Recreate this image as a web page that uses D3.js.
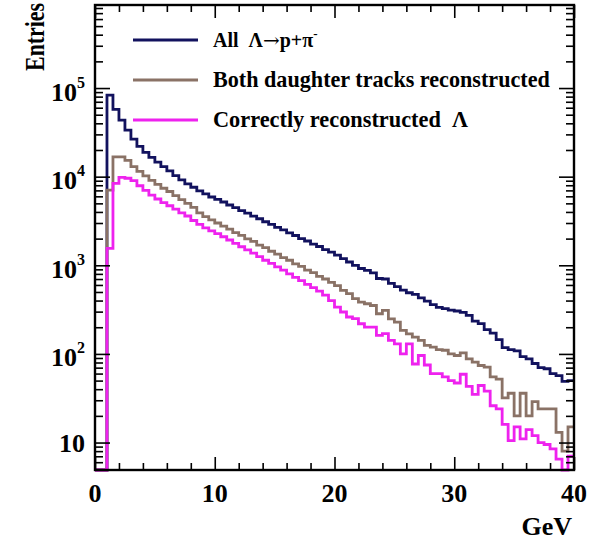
<!DOCTYPE html>
<html>
<head>
<meta charset="utf-8">
<script src="https://cdn.jsdelivr.net/npm/d3@7"></script>
<style>
  body { margin: 0; background: #fff; }
  svg { display: block; }
  text { font-family: "Liberation Serif", "Times New Roman", serif; font-weight: bold; fill: #000; white-space: pre; }
</style>
</head>
<body>
<svg id="chart" width="589" height="541"></svg>
<script>
// ---------------- data ----------------
const binWidth = 0.5;
const binLowEdges = d3.range(0, 40, binWidth); // 80 bins, 0 .. 39.5 GeV

const allLambda = [
  0, 0, 83000, 57500, 43500, 33500, 26500, 22000, 18800, 16500,
  14600, 13000, 11600, 10300, 9200, 8300, 7600, 6900, 6400, 5900,
  5550, 5180, 4790, 4480, 4140, 3870, 3580, 3350, 3100, 2900,
  2680, 2510, 2320, 2170, 2000, 1880, 1730, 1630, 1500, 1410,
  1300, 1190, 1090, 1000, 920, 878, 820, 710, 700, 625,
  575, 525, 490, 470, 430, 395, 360, 335, 325, 312,
  305, 295, 272, 235, 220, 188, 172, 145, 118, 112,
  108, 93, 88, 78, 70, 68, 60, 57, 49, 50
];
const bothDaughters = [
  0, 0, 7050, 16700, 16700, 15300, 13000, 11500, 10200, 9100,
  8200, 7400, 6800, 6100, 5500, 5000, 4500, 3900, 3550, 3250,
  3000, 2760, 2560, 2340, 2180, 1990, 1860, 1690, 1580, 1440,
  1340, 1220, 1140, 1040, 970, 880, 825, 750, 700, 640,
  590, 521, 478, 420, 385, 368, 352, 284, 310, 249,
  228, 184, 168, 155, 142, 125, 119, 112, 110, 100,
  96, 103, 88, 81, 74, 71, 55, 52, 32, 36,
  20, 36, 20, 29, 24, 24, 24, 13, 8, 15
];
const correctLambda = [
  0, 0, 1550, 8400, 9800, 9600, 9000, 7900, 7000, 6200,
  5600, 5100, 4700, 4300, 3900, 3600, 3200, 2900, 2650, 2450,
  2280, 2100, 1930, 1770, 1620, 1490, 1370, 1250, 1140, 1050,
  960, 880, 800, 730, 670, 610, 560, 510, 460, 400,
  338, 297, 261, 250, 219, 201, 201, 162, 169, 142,
  130, 100, 130, 77, 96, 75, 60, 60, 55, 50,
  47, 59, 43, 35, 44, 38, 26, 24, 16, 10.5,
  15, 11, 14, 12, 10, 9.5, 8.5, 6.5, 0, 7
];

const seriesNames = ["All", "Both daughter tracks reconstructed", "Correctly reconstructed"];
const seriesColors = ["#12125e", "#8a7266", "#ee22ee"];
const xMajorTicks = [0, 10, 20, 30, 40];
const xMinorTicks = d3.range(0, 41, 2).filter(v => v % 10 !== 0);
const yMajorTicks = [10, 100, 1000, 10000, 100000];
const yTickExponents = ["1", "2", "3", "4", "5"];
const xTitle = "GeV";
const yTitle = "Entries";

// ---------------- layout ----------------
const svg = d3.select("#chart");
const L = 95, R = 574, T = 5, B = 470;

const x = d3.scaleLinear().domain([0, 40]).range([L, R]);
const y = d3.scaleLog().domain([4.9, 8.65e5]).range([B, T]).clamp(true);

const yMinor = [];
for (let e = 0; e <= 5; e++) {
  for (let m = 2; m <= 9; m++) {
    const v = m * Math.pow(10, e);
    if (v > 4.9 && v < 8.65e5) yMinor.push(v);
  }
}

// ---------------- histograms ----------------
function histPoints(vals) {
  const pts = binLowEdges.map((lo, i) => [lo, vals[i]]);
  pts.push([40, vals[vals.length - 1]]);
  return pts;
}
const line = d3.line()
  .x(d => x(d[0]))
  .y(d => d[1] > 0 ? y(d[1]) : B)
  .curve(d3.curveStepAfter);

const plot = svg.append("g");
[allLambda, bothDaughters, correctLambda].forEach((vals, i) => {
  plot.append("path")
    .attr("d", line(histPoints(vals)))
    .attr("fill", "none")
    .attr("stroke", seriesColors[i])
    .attr("stroke-width", 2.8)
    .attr("stroke-linejoin", "miter");
});

// ---------------- axes / ticks ----------------
function styleAxis(g) {
  g.select(".domain").remove();
  g.selectAll(".tick line").attr("stroke", "#000").attr("stroke-width", 1.6);
  g.selectAll(".tick text").remove();
}
svg.append("g").attr("transform", `translate(0,${B})`)
  .call(d3.axisBottom(x).tickValues(xMajorTicks).tickSize(-13)).call(styleAxis);
svg.append("g").attr("transform", `translate(0,${B})`)
  .call(d3.axisBottom(x).tickValues(xMinorTicks).tickSize(-7)).call(styleAxis);
svg.append("g").attr("transform", `translate(0,${T})`)
  .call(d3.axisTop(x).tickValues(xMajorTicks).tickSize(-13)).call(styleAxis);
svg.append("g").attr("transform", `translate(0,${T})`)
  .call(d3.axisTop(x).tickValues(xMinorTicks).tickSize(-7)).call(styleAxis);
svg.append("g").attr("transform", `translate(${L},0)`)
  .call(d3.axisLeft(y).tickValues(yMajorTicks).tickSize(-15)).call(styleAxis);
svg.append("g").attr("transform", `translate(${L},0)`)
  .call(d3.axisLeft(y).tickValues(yMinor).tickSize(-8)).call(styleAxis);
svg.append("g").attr("transform", `translate(${R},0)`)
  .call(d3.axisRight(y).tickValues(yMajorTicks).tickSize(-15)).call(styleAxis);
svg.append("g").attr("transform", `translate(${R},0)`)
  .call(d3.axisRight(y).tickValues(yMinor).tickSize(-8)).call(styleAxis);

svg.append("rect")
  .attr("x", L).attr("y", T).attr("width", R - L).attr("height", B - T)
  .attr("fill", "none").attr("stroke", "#000").attr("stroke-width", 2.4);

// ---------------- labels ----------------
xMajorTicks.forEach(v => {
  svg.append("text").attr("x", x(v)).attr("y", 502)
    .attr("text-anchor", "middle").style("font-size", "26px").text(v);
});
yMajorTicks.forEach((v, i) => {
  const t = svg.append("text").attr("x", 85).attr("text-anchor", "end").style("font-size", "26px");
  if (yTickExponents[i] === "1") {
    t.attr("y", y(v) + 9.5).text("10");
  } else {
    t.attr("y", y(v) + 12.5);
    t.append("tspan").text("10");
    t.append("tspan").attr("dy", -13).style("font-size", "16px").text(yTickExponents[i]);
  }
});

svg.append("text").attr("x", 572).attr("y", 535).attr("text-anchor", "end")
  .style("font-size", "26px").text(xTitle);

svg.append("text")
  .attr("transform", "translate(44,3) rotate(-90) scale(0.78,1)")
  .attr("text-anchor", "end").style("font-size", "28px").text(yTitle);

// ---------------- legend ----------------
const legendY = [40, 80, 120];
legendY.forEach((ly, i) => {
  svg.append("line").attr("x1", 133).attr("x2", 198).attr("y1", ly).attr("y2", ly)
    .attr("stroke", seriesColors[i]).attr("stroke-width", 2.8);
});
const lg0 = svg.append("text").attr("x", 213).attr("y", legendY[0] + 7).style("font-size", "20px");
lg0.append("tspan").text(seriesNames[0] + "  \u039B");
lg0.append("tspan").style("font-family", "'DejaVu Serif'").style("font-weight", "normal").text("\u2192");
lg0.append("tspan").text("p+\u03C0");
lg0.append("tspan").attr("dy", -9).style("font-size", "13px").text("-");

const lg1 = svg.append("text").attr("x", 213).attr("y", legendY[1] + 7).style("font-size", "20px")
  .text(seriesNames[1]);
const lg2 = svg.append("text").attr("x", 213).attr("y", legendY[2] + 7).style("font-size", "20px")
  .text(seriesNames[2] + "  \u039B");
[[lg1, 337], [lg2, 255]].forEach(([t, w]) => {
  const len = t.node().getComputedTextLength();
  if (len > 0) t.style("font-size", (20 * w / len).toFixed(2) + "px");
});
</script>
</body>
</html>
